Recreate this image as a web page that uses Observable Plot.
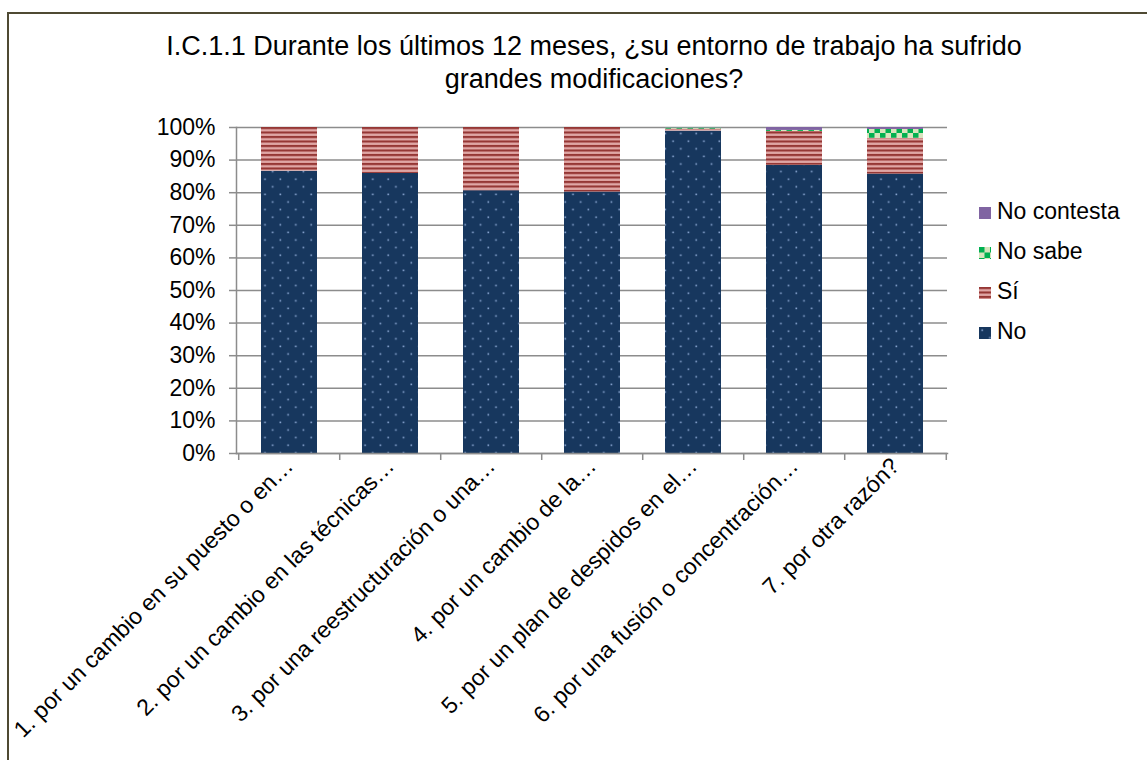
<!DOCTYPE html>
<html><head><meta charset="utf-8">
<script src="https://cdn.jsdelivr.net/npm/d3@7"></script>
<script src="https://cdn.jsdelivr.net/npm/@observablehq/plot@0.6"></script>
<style>
body{margin:0;background:#fff;font-family:"Liberation Sans",Arial,sans-serif;}
#wrap{position:relative;width:1147px;height:760px;overflow:hidden;background:#fff;}
#frame{position:absolute;left:7px;top:12px;width:1300px;height:900px;border-top:2px solid #4f4a33;border-left:2px solid #4f4a33;pointer-events:none;}
#title{box-sizing:border-box;width:1147px;height:100px;padding-top:30px;padding-left:41px;text-align:center;font-size:27px;line-height:33px;color:#000;}
#legend{position:absolute;left:979px;top:0;width:160px;height:400px;}
.sw{position:absolute;left:0;width:12px;height:12px;}
.lt{position:absolute;left:18px;font-size:23px;line-height:23px;white-space:nowrap;color:#000;}
svg{display:block;}
</style></head>
<body>
<div id="wrap">
<div id="title">I.C.1.1 Durante los últimos 12 meses, ¿su entorno de trabajo ha sufrido<br>grandes modificaciones?</div>
<div id="chart"></div>
<div id="legend"></div>
<div id="frame"></div>
</div>
<script>
const categories = [
  "1. por un cambio en su puesto o en…",
  "2. por un cambio en las técnicas…",
  "3. por una reestructuración o una…",
  "4. por un cambio de la…",
  "5. por un plan de despidos en el…",
  "6. por una fusión o concentración…",
  "7. por otra razón?"
];
const seriesNames = ["No", "Sí", "No sabe", "No contesta"];
const valNo         = [86.6, 85.9, 80.6, 80.2, 98.9, 88.4, 85.7];
const valSi         = [13.4, 14.1, 19.4, 19.8, 0.6, 10.4, 11.0];
const valNoSabe     = [0, 0, 0, 0, 0.4, 0.3, 2.7];
const valNoContesta = [0, 0, 0, 0, 0.1, 0.9, 0.6];
const yTicks = [0, 10, 20, 30, 40, 50, 60, 70, 80, 90, 100];
const legendOrder = ["No contesta", "No sabe", "Sí", "No"];

const seriesValues = [valNo, valSi, valNoSabe, valNoContesta];
const fills = ["url(#pNo)", "url(#pSi)", "url(#pNoSabe)", "url(#pNoContesta)"];

const data = [];
seriesNames.forEach((s, si) => {
  categories.forEach((c, ci) => data.push({cat: c, series: s, value: seriesValues[si][ci]}));
});

const W = 1147, ML = 236, MR = 200;
const step = (W - ML - MR) / categories.length;
const gray = "#8c8c8c";

const svg = Plot.plot({
  width: W, height: 660,
  marginLeft: ML, marginRight: MR, marginTop: 27, marginBottom: 307,
  style: {fontFamily: '"Liberation Sans", Arial, sans-serif', background: "transparent", overflow: "visible"},
  x: {domain: categories, paddingInner: 0.45, paddingOuter: 0.225, axis: null},
  y: {domain: [0, 100], axis: null},
  color: {type: "ordinal", domain: seriesNames, range: fills},
  marks: [
    Plot.gridY(yTicks, {stroke: gray, strokeOpacity: 1, strokeWidth: 1.5}),
    Plot.barY(data, Plot.stackY({x: "cat", y: "value", fill: "series", order: null})),
    Plot.frame({anchor: "left", stroke: gray, strokeWidth: 1.5}),
    Plot.frame({anchor: "bottom", stroke: gray, strokeWidth: 1.5}),
    Plot.axisY(yTicks, {label: null, tickSize: 7, tickPadding: 14, tickFormat: d => d + "%", fontSize: 23, stroke: gray, strokeWidth: 1.5, strokeOpacity: 1, fill: "#000"}),
    Plot.ruleX(categories, {x: d => d, y1: 0, y2: 0, dx: -step / 2, insetBottom: -7, stroke: gray, strokeWidth: 1.5}),
    Plot.ruleX(categories.slice(-1), {x: d => d, y1: 0, y2: 0, dx: step / 2, insetBottom: -7, stroke: gray, strokeWidth: 1.5}),
    Plot.text(categories, {x: d => d, frameAnchor: "bottom", text: d => d, rotate: -45, textAnchor: "end", lineAnchor: "bottom", dx: 5, dy: 14, fontSize: 23, fill: "#000"})
  ]
});

// patterns
const defs = d3.select(svg).insert("defs", ":first-child");
const pNo = defs.append("pattern").attr("id", "pNo").attr("patternUnits", "userSpaceOnUse").attr("width", 15.4).attr("height", 15.2);
pNo.append("rect").attr("width", 15.4).attr("height", 15.2).attr("fill", "#17375e");
pNo.append("rect").attr("x", 2.4).attr("y", 2.4).attr("width", 1.6).attr("height", 1.6).attr("fill", "#8aa6d2");
pNo.append("rect").attr("x", 10.1).attr("y", 10.0).attr("width", 1.6).attr("height", 1.6).attr("fill", "#8aa6d2");
const pSi = defs.append("pattern").attr("id", "pSi").attr("patternUnits", "userSpaceOnUse").attr("width", 10).attr("height", 4.5);
pSi.append("rect").attr("width", 10).attr("height", 4.5).attr("fill", "#d99694");
pSi.append("rect").attr("y", 0).attr("width", 10).attr("height", 2).attr("fill", "#953735");
pSi.append("rect").attr("y", 3).attr("width", 10).attr("height", 0.8).attr("fill", "#e6b9b8");
const pNS = defs.append("pattern").attr("id", "pNoSabe").attr("patternUnits", "userSpaceOnUse").attr("width", 11).attr("height", 11);
pNS.append("rect").attr("width", 11).attr("height", 11).attr("fill", "#d7e4bd");
pNS.append("rect").attr("width", 5.5).attr("height", 5.5).attr("fill", "#00b050");
pNS.append("rect").attr("x", 5.5).attr("y", 5.5).attr("width", 5.5).attr("height", 5.5).attr("fill", "#00b050");
const pNC = defs.append("pattern").attr("id", "pNoContesta").attr("patternUnits", "userSpaceOnUse").attr("width", 4).attr("height", 4);
pNC.append("rect").attr("width", 4).attr("height", 4).attr("fill", "#8064a2");

document.getElementById("chart").appendChild(svg);

// legend
const legend = document.getElementById("legend");
const baselines = [219, 259, 299, 339];
legendOrder.forEach((name, i) => {
  const b = baselines[i];
  const idx = seriesNames.indexOf(name);
  const sw = document.createElementNS("http://www.w3.org/2000/svg", "svg");
  sw.setAttribute("class", "sw");
  sw.setAttribute("width", 12); sw.setAttribute("height", 12);
  sw.style.top = (b - 12) + "px";
  const r = document.createElementNS("http://www.w3.org/2000/svg", "rect");
  r.setAttribute("width", 12); r.setAttribute("height", 12);
  r.setAttribute("fill", fills[idx]);
  sw.appendChild(r);
  legend.appendChild(sw);
  const t = document.createElement("div");
  t.className = "lt";
  t.style.top = (b - 19.5) + "px";
  t.textContent = name;
  legend.appendChild(t);
});
</script>
</body></html>
